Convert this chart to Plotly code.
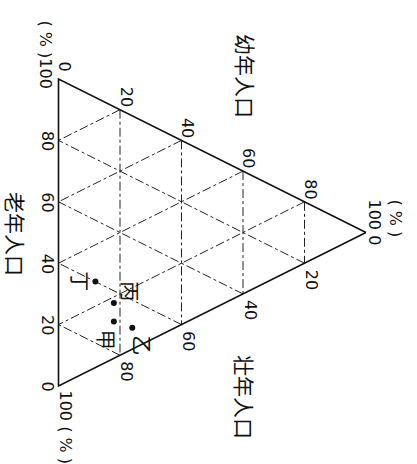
import plotly.graph_objects as go

# ---------------- data ----------------
regions = ["甲", "乙", "丙", "丁"]
youth = [18, 24, 18, 12]      # 幼年人口 %
elderly = [12, 7, 18, 28]     # 老年人口 %
working = [70, 69, 64, 60]    # 壮年人口 %

grid_vals = [20, 40, 60, 80]
elderly_ticks = [0, 20, 40, 60, 80]   # left edge
youth_ticks = [0, 20, 40, 60, 80]     # upper edge
working_ticks = [20, 40, 60, 80]      # lower edge

axis_titles = {"幼": "幼年人口", "老": "老年人口", "壮": "壮年人口"}

# ---------------- geometry (pixel frame, y downward) ----------------
V_Y = (366.0, 232.5)   # 幼年 100 %
V_O = (58.5, 79.0)     # 老年 100 %
V_W = (58.5, 386.0)    # 壮年 100 %


def tern(y, o, w):
    s = y + o + w
    x = (y * V_Y[0] + o * V_O[0] + w * V_W[0]) / s
    yy = (y * V_Y[1] + o * V_O[1] + w * V_W[1]) / s
    return x, yy


fig = go.Figure()

# grid lines
gx, gy = [], []
for v in grid_vals:
    for a, b in [(tern(v, 100 - v, 0), tern(v, 0, 100 - v)),
                 (tern(100 - v, v, 0), tern(0, v, 100 - v)),
                 (tern(100 - v, 0, v), tern(0, 100 - v, v))]:
        gx += [a[0], b[0], None]
        gy += [a[1], b[1], None]
fig.add_trace(go.Scatter(x=gx, y=gy, mode="lines",
                         line=dict(color="#222222", width=1, dash="dashdot"),
                         hoverinfo="skip", showlegend=False))

# triangle outline
c1, c2, c3 = tern(100, 0, 0), tern(0, 100, 0), tern(0, 0, 100)
fig.add_trace(go.Scatter(x=[c1[0], c2[0], c3[0], c1[0]],
                         y=[c1[1], c2[1], c3[1], c1[1]], mode="lines",
                         line=dict(color="#111111", width=1.6),
                         hoverinfo="skip", showlegend=False))

# points
pts = [tern(y, o, w) for y, o, w in zip(youth, elderly, working)]
fig.add_trace(go.Scatter(x=[p[0] for p in pts], y=[p[1] for p in pts],
                         mode="markers", marker=dict(color="#111111", size=6),
                         text=regions, showlegend=False))

ann = []
NUM = dict(family="DejaVu Sans", size=16, color="#111111")
CJK = dict(family="Noto Sans CJK SC", size=21, color="#111111")


def add(x, y, text, font, align="center"):
    ann.append(dict(x=x, y=y, text=text, showarrow=False, textangle=90,
                    xanchor="center", yanchor="middle", font=font, align=align))


for v in elderly_ticks:
    p = tern(0, v, 100 - v)
    add(p[0] - 11, p[1], str(v), NUM)
for v in youth_ticks:
    p = tern(v, 100 - v, 0)
    add(p[0] + 6, p[1] - 13, str(v), NUM)
for v in working_ticks:
    p = tern(100 - v, 0, v)
    add(p[0] + 7, p[1] + 16, str(v), NUM)

# corner labels
p = tern(0, 100, 0)
add(p[0] - 13, p[1] - 25, "( % )100", NUM)
p = tern(0, 0, 100)
add(p[0] + 7, p[1] + 41, "100 ( % )", NUM)
p = tern(100, 0, 0)
add(p[0] + 19, p[1] - 10, "( % )<br>100 0", NUM, align="left")

# axis titles
add(246, 76, axis_titles["幼"], CJK)
add(16, 234, axis_titles["老"], CJK)
add(245, 397, axis_titles["壮"], CJK)

# point labels
offsets = {"甲": (-7, 18), "乙": (10, 18), "丙": (17, -12), "丁": (-15, 0)}
LBL = dict(family="Noto Sans CJK SC", size=20, color="#111111")
for r, p in zip(regions, pts):
    dx, dy = offsets[r]
    add(p[0] + dx, p[1] + dy, r, LBL)

fig.update_layout(
    width=417, height=464,
    margin=dict(l=0, r=0, t=0, b=0),
    paper_bgcolor="white", plot_bgcolor="white",
    xaxis=dict(range=[0, 417], visible=False, fixedrange=True),
    yaxis=dict(range=[464, 0], visible=False, fixedrange=True),
    annotations=ann,
    showlegend=False,
)

fig.write_html(
    "out.html",
    config={"displayModeBar": False},
    post_script="document.body.style.margin='0';document.body.style.overflow='hidden';",
)
